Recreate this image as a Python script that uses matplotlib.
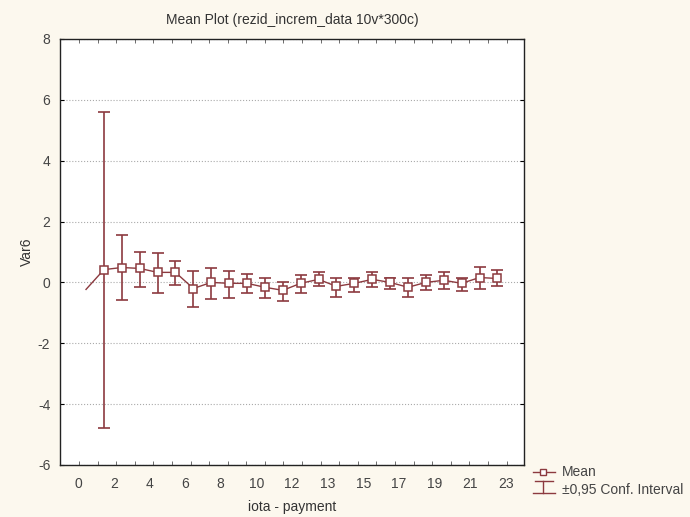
import numpy as np
import matplotlib.pyplot as plt
from matplotlib.lines import Line2D

# Datos
idx = np.arange(24)
mean = [-0.23, 0.42, 0.49, 0.46, 0.33, 0.33, -0.20, 0.00, -0.03, -0.03, -0.16, -0.26,
        -0.03, 0.10, -0.13, -0.03, 0.10, 0.00, -0.16, 0.00, 0.07, -0.03, 0.16, 0.13]
upper = [np.nan, 5.59, 1.57, 1.01, 0.98, 0.69, 0.39, 0.49, 0.36, 0.29, 0.13, 0.03,
         0.23, 0.33, 0.16, 0.13, 0.33, 0.16, 0.13, 0.26, 0.33, 0.13, 0.52, 0.42]
lower = [np.nan, -4.77, -0.59, -0.16, -0.36, -0.10, -0.82, -0.56, -0.52, -0.36, -0.52, -0.62,
         -0.36, -0.13, -0.49, -0.33, -0.16, -0.23, -0.49, -0.26, -0.23, -0.29, -0.20, -0.13]
xlabels = ['0', '2', '4', '6', '8', '10', '12', '13', '15', '17', '19', '21', '23']

plt.rcParams['font.family'] = ['Liberation Sans', 'DejaVu Sans']
plt.rcParams['font.size'] = 10
plt.rcParams['axes.unicode_minus'] = False

col = '#8c3a3f'
bg = '#fcf8ee'
txt = '#444444'

fig = plt.figure(figsize=(6.9, 5.17), dpi=100, facecolor=bg)
ax = fig.add_axes([0.087, 0.1006, 0.672, 0.824])
ax.set_facecolor('white')

mean = np.array(mean)
upper = np.array(upper)
lower = np.array(lower)

# linea de medias y marcadores
ax.plot(idx, mean, color=col, lw=1, zorder=3)
ax.errorbar(idx[1:], mean[1:], yerr=[mean[1:] - lower[1:], upper[1:] - mean[1:]],
            fmt='none', ecolor=col, elinewidth=1.2, capsize=4.5, capthick=1.2, zorder=2)
ax.plot(idx[1:], mean[1:], ls='none', marker='s', ms=6, mfc='white', mec=col,
        mew=1.1, zorder=4)

# ejes
ax.set_xlim(-1.453, 24.47)
ax.set_ylim(-6, 8)
ax.set_yticks(np.arange(-6, 9, 2))
ax.yaxis.grid(True, ls=':', color='#aaaaaa', lw=0.8)

tick_pos = (79 + 18.6 * np.arange(24) - 86) / 17.9
lab_pos = (78 + 35.7 * np.arange(len(xlabels)) - 86) / 17.9
ax.set_xticks(lab_pos)
ax.set_xticklabels(xlabels)
ax.set_xticks(tick_pos, minor=True)
ax.tick_params(axis='x', which='major', length=0, pad=9, labelcolor=txt)
ax.tick_params(axis='x', which='minor', direction='in', length=3, top=True, color='#555555')
ax.tick_params(axis='y', direction='in', length=3, right=True, pad=7, labelcolor=txt)
for s in ax.spines.values():
    s.set_color('#222222')
    s.set_linewidth(1)

ax.set_title('Mean Plot (rezid_increm_data 10v*300c)', fontsize=10, color='#333333', pad=11)
ax.set_xlabel('iota - payment', color='#333333', labelpad=6)
ax.set_ylabel('Var6', color='#333333', labelpad=3)

# leyenda dibujada a mano (coordenadas de pixel de la figura)
W, H = 690, 517
def px(x, y):
    return x / W, 1 - y / H

x0, x1, xm = 533, 555, 543
fig.add_artist(Line2D(*zip(px(x0, 472), px(x1, 472)), color=col, lw=1))
fig.add_artist(Line2D(*zip(px(xm, 472)), marker='s', ms=5, mfc='white', mec=col, mew=1))
fig.add_artist(Line2D(*zip(px(x0 + 2, 481), px(x1 - 2, 481)), color=col, lw=1))
fig.add_artist(Line2D(*zip(px(x0, 493), px(x1, 493)), color=col, lw=1))
fig.add_artist(Line2D(*zip(px(xm, 481), px(xm, 493)), color=col, lw=1))
fig.text(*px(562, 472), 'Mean', va='center', ha='left', color=txt)
fig.text(*px(562, 490), '\u00b10,95 Conf. Interval', va='center', ha='left', color=txt)

fig.savefig('out.png', dpi=100, facecolor=bg)
